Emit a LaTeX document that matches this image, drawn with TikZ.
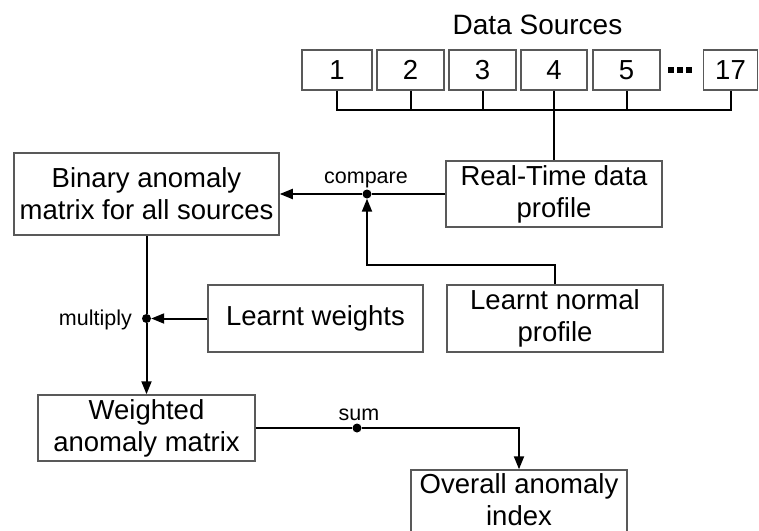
\documentclass[tikz,border=0pt]{standalone}
\usepackage{fontspec}
\setmainfont{Liberation Sans}
\usetikzlibrary{arrows.meta}
\begin{document}
\begin{tikzpicture}[x=1pt,y=-1pt,
  box/.style={draw=black!65,line width=1.5pt,rectangle,align=center,inner sep=0pt,
    font=\fontsize{27.5}{32}\selectfont},
  srcbox/.style={box,minimum height=40pt},
  lbl/.style={font=\fontsize{21.5}{25}\selectfont,inner sep=0pt},
  conn/.style={line width=2pt,draw=black},
  arr/.style={conn,-{Triangle[length=13pt,width=10pt]}},
  jdot/.style={circle,fill=black,inner sep=0pt,minimum size=9pt}]
\useasboundingbox (0,0) rectangle (759,530);
\clip (0,0) rectangle (759,530);

% title
\node[font=\fontsize{28}{32}\selectfont,inner sep=0pt] (title) at (537.5,25) {Data Sources};

% source boxes
\node[srcbox,minimum width=70pt] (s1) at (337,70) {1};
\node[srcbox,minimum width=67pt] (s2) at (410.5,70) {2};
\node[srcbox,minimum width=67pt] (s3) at (482.5,70) {3};
\node[srcbox,minimum width=66pt] (s4) at (554,70) {4};
\node[srcbox,minimum width=67pt] (s5) at (626.5,70) {5};
\node[srcbox,minimum width=54pt] (s17) at (730.5,70) {17};
\fill (668,67) rectangle (674,73);
\fill (677,67) rectangle (683,73);
\fill (686,67) rectangle (692,73);

% main boxes
\node[box,minimum width=216pt,minimum height=66pt] (rt) at (554,194) {Real-Time data\\profile};
\node[box,minimum width=216pt,minimum height=67pt] (lnp) at (555,318.5) {Learnt normal\\profile};
\node[box,minimum width=265pt,minimum height=82pt] (bin) at (146.5,194) {Binary anomaly\\matrix for all sources};
\node[box,minimum width=215pt,minimum height=67pt] (lw) at (315.5,318.5) {Learnt weights};
\node[box,minimum width=217pt,minimum height=66pt] (wam) at (146.5,428) {Weighted\\anomaly matrix};
\node[box,minimum width=216pt,minimum height=66pt,text depth=7pt] (ovr) at (519,503) {Overall anomaly\\index};

% junction dots
\node[jdot] (cmp) at (367,194) {};
\node[jdot] (mul) at (146.5,318.5) {};
\node[jdot] (sum) at (357,428) {};
\coordinate (bus) at (554,110);
\coordinate (turn) at (367,265);

% labels
\node[lbl,anchor=base] (lcmp) at (366,183) {compare};
\node[lbl,anchor=base east] (lmul) at (132,325) {multiply};
\node[lbl,anchor=base] (lsum) at (359,420) {sum};

% source bus
\draw[conn] (s1.south) |- (bus) -| (s17.south);
\draw[conn] (s2.south) -- (s2.south |- bus);
\draw[conn] (s3.south) -- (s3.south |- bus);
\draw[conn] (s5.south) -- (s5.south |- bus);
\draw[conn] (s4.south) -- (rt.north);

% compare
\draw[conn] (rt.west) -- (cmp);
\draw[arr] (cmp) -- (bin.east);
\draw[arr] (lnp.north) |- (turn) -- (cmp);

% multiply
\draw[conn] (bin.south) -- (mul);
\draw[arr] (lw.west) -- (mul);
\draw[arr] (mul) -- (wam.north);

% sum
\draw[conn] (wam.east) -- (sum);
\draw[arr] (sum) -| (ovr.north);
\end{tikzpicture}
\end{document}
